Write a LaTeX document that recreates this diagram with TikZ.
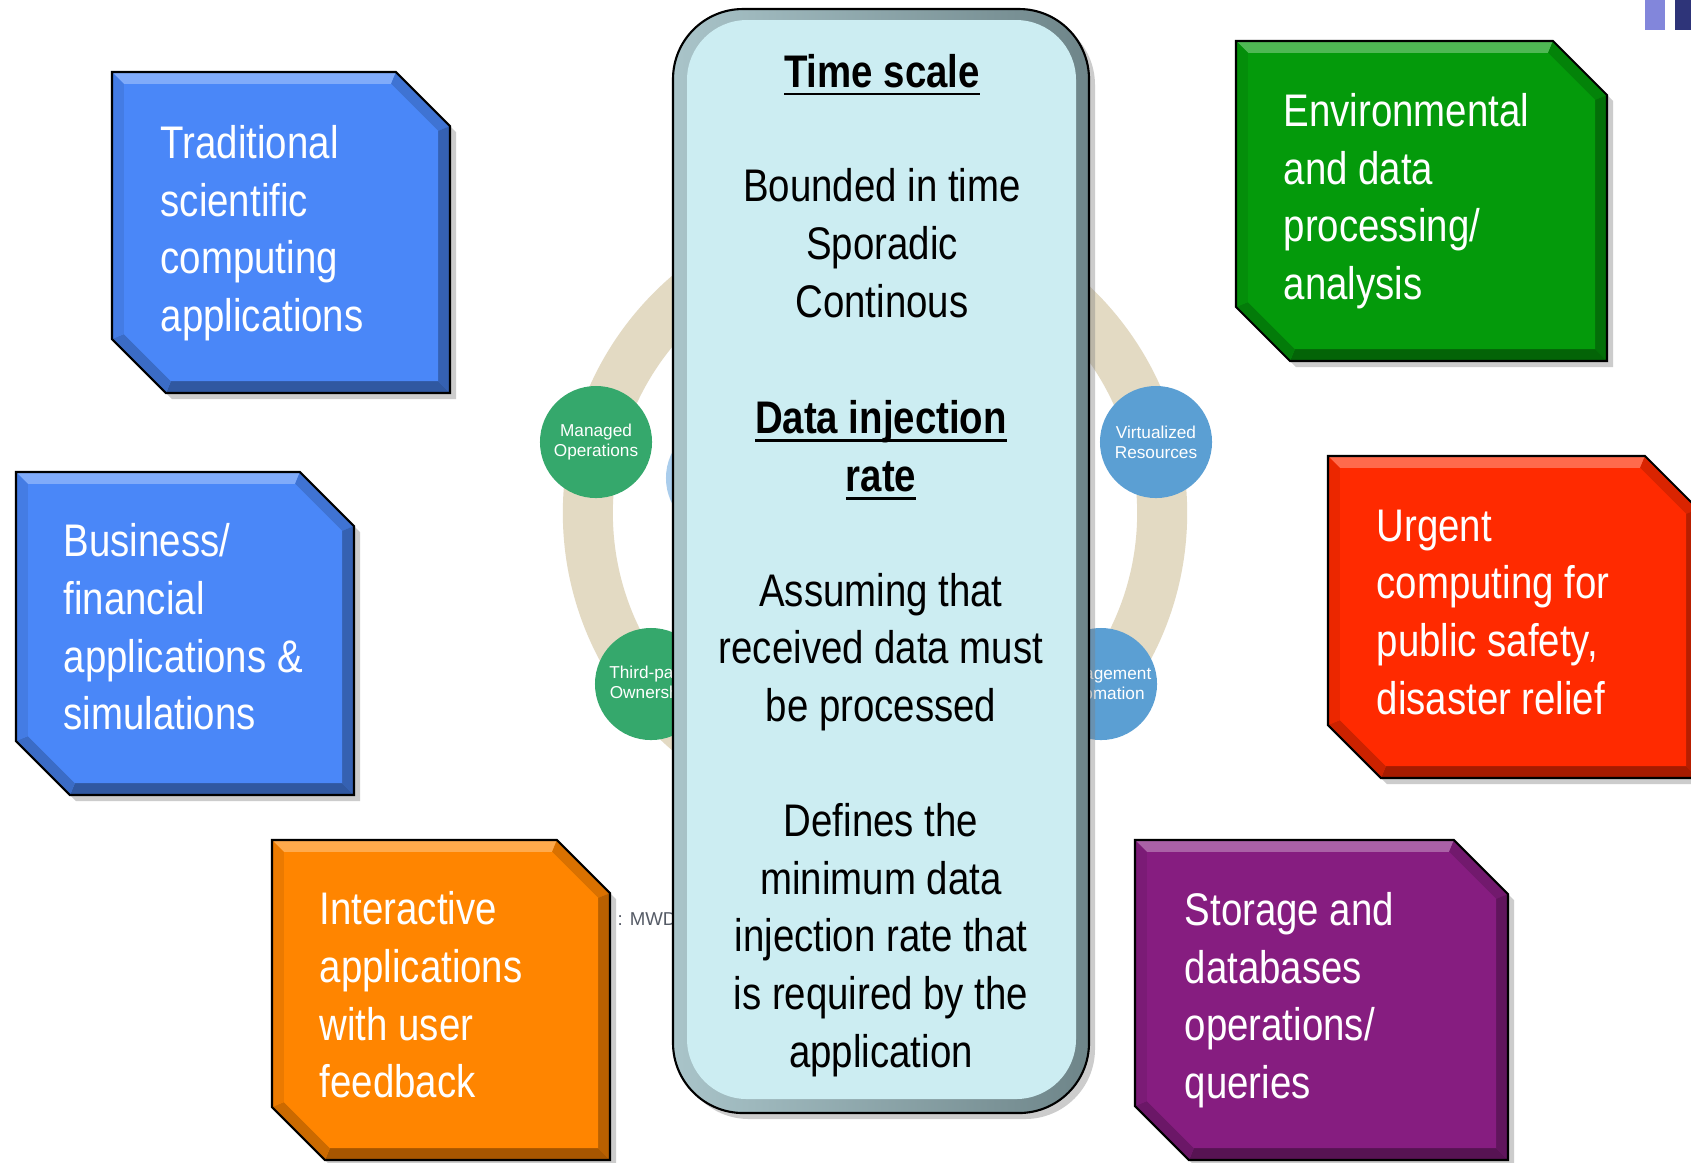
\documentclass[tikz,border=0pt]{standalone}
\usepackage{fontspec}
\setmainfont{Liberation Sans}[FakeStretch=0.84]
\newfontfamily\hubfont{Liberation Sans}
\usetikzlibrary{shadows}
\definecolor{cblue}{HTML}{4A87F8}
\definecolor{cgreen}{HTML}{049A0B}
\definecolor{cred}{HTML}{FF2A00}
\definecolor{corange}{HTML}{FF8500}
\definecolor{cpurple}{HTML}{861D80}
\definecolor{cring}{HTML}{E3DAC3}
\definecolor{chubg}{HTML}{35A86C}
\definecolor{chubb}{HTML}{5B9FD3}
\definecolor{chubl}{HTML}{AACDEC}
\definecolor{cpanel}{HTML}{CCEDF2}
\definecolor{cpanL}{HTML}{A9C4C9}
\definecolor{cpanD}{HTML}{6E8589}
\definecolor{csrc}{HTML}{555B66}
\definecolor{cnavL}{HTML}{8286DB}
\definecolor{cnavD}{HTML}{2E3479}
\newcommand\bw{12}
\newcommand\ulin[1]{\setbox0\hbox{#1}\rlap{\rule[-2.4pt]{\wd0}{0.8pt}}\box0}
\tikzset{
  outl/.style={draw=black, line width=0.6pt},
  shad/.style={drop shadow={shadow xshift=.6mm, shadow yshift=-.6mm, opacity=.4}},
  boxtxt/.style={anchor=west, align=left, text=white, inner sep=0pt, font=\fontsize{13}{16.4}\selectfont},
  midtxt/.style={align=center, inner sep=0pt, font=\fontsize{13}{16.4}\selectfont},
  hub/.style={circle, minimum size=11.2mm, inner sep=0pt, text=white, align=center, font=\hubfont\fontsize{4.9}{5.7}\selectfont},
  grn/.style={hub, fill=chubg},
  blu/.style={hub, fill=chubb},
  ring/.style={line width=5mm, draw=cring},
}
\begin{document}
\begin{tikzpicture}[x=0.01cm,y=-0.01cm]
\fill[white] (0,0) rectangle (1691,1162);
\clip (0,0) rectangle (1691,1162);
% ring of service circles behind the panel
\draw[ring] (875,513) circle[radius=2.87cm];
\node[grn] (mops) at (596,442) {Managed\\Operations};
\node[grn] (tpo) at (651,684) {Third-party\\Ownership};
\node[blu] (vres) at (1156,442) {Virtualized\\Resources};
\node[blu] (mauto) at (1101,684) {Management\\Automation};
\node[hub, fill=chubl] (hidden) at (722,478) {};
\node[anchor=base west, inner sep=0pt, text=csrc, font=\hubfont\fontsize{5.3}{6}\selectfont] (src) at (617,925) {: MWD};
% bevelled application boxes
\foreach \xa/\ya/\xb/\yb/\c/\col in {112/72/450/393/54/cblue, 16/472/354/795/54/cblue, 272/840/610/1160/53/corange,
  1236/41/1607/361/54/cgreen, 1328/456/1698/778/53/cred, 1135/840/1508/1160/54/cpurple}{
  \coordinate (o1) at (\xa,\ya);
  \coordinate (o2) at ({\xb-\c},\ya);
  \coordinate (o3) at (\xb,{\ya+\c});
  \coordinate (o4) at (\xb,\yb);
  \coordinate (o5) at ({\xa+\c},\yb);
  \coordinate (o6) at (\xa,{\yb-\c});
  \coordinate (i1) at ({\xa+\bw},{\ya+\bw});
  \coordinate (i2) at ({\xb-\c-0.414*\bw},{\ya+\bw});
  \coordinate (i3) at ({\xb-\bw},{\ya+\c+0.414*\bw});
  \coordinate (i4) at ({\xb-\bw},{\yb-\bw});
  \coordinate (i5) at ({\xa+\c+0.414*\bw},{\yb-\bw});
  \coordinate (i6) at ({\xa+\bw},{\yb-\c-0.414*\bw});
  \fill[\col, shad] (o1) -- (o2) -- (o3) -- (o4) -- (o5) -- (o6) -- cycle;
  \foreach \p/\q/\sh in {1/2/70!white, 2/3/85!black, 3/4/72!black, 4/5/65!black, 5/6/80!black, 6/1/92!black}
    \fill[\col!\sh] (o\p) -- (o\q) -- (i\q) -- (i\p) -- cycle;
  \fill[\col] (i1) -- (i2) -- (i3) -- (i4) -- (i5) -- (i6) -- cycle;
  \draw[outl] (o1) -- (o2) -- (o3) -- (o4) -- (o5) -- (o6) -- cycle;
}
\node[boxtxt] (trad) at (160,233) {Traditional\\scientific\\computing\\applications};
\node[boxtxt] (biz) at (63,627) {Business/\\financial\\applications \&\\simulations};
\node[boxtxt] (inter) at (319,995) {Interactive\\applications\\with user\\feedback};
\node[boxtxt] (env) at (1283,201) {Environmental\\and data\\processing/\\analysis};
\node[boxtxt] (urgent) at (1376,612) {Urgent\\computing for\\public safety,\\disaster relief};
\node[boxtxt] (store) at (1184,1000) {Storage and\\databases\\operations/\\queries};
% central panel
\fill[cpanel, shad, rounded corners=7mm] (673,9) rectangle (1089,1113);
\fill[left color=cpanL, right color=cpanD, rounded corners=7mm] (673,9) rectangle (1089,1113);
\fill[cpanel, rounded corners=6mm] (687,20) rectangle (1076,1099);
\draw[outl, rounded corners=7mm] (673,9) rectangle (1089,1113);
\node[midtxt, anchor=base] (tscale) at (882,87) {\ulin{\textbf{Time scale}}};
\node[midtxt] (tkinds) at (882,243) {Bounded in time\\Sporadic\\Continous};
\node[midtxt] (dirate) at (881,450) {\ulin{\textbf{Data injection}}\\\ulin{\textbf{rate}}};
\node[midtxt] (assume) at (881,652) {Assuming that\\received data must\\be processed};
\node[midtxt] (defines) at (881,940) {Defines the\\minimum data\\injection rate that\\is required by the\\application};
% corner marks
\fill[cnavL] (1645,0) rectangle (1665,30);
\fill[cnavD] (1675,0) rectangle (1691,30);
\end{tikzpicture}
\end{document}
